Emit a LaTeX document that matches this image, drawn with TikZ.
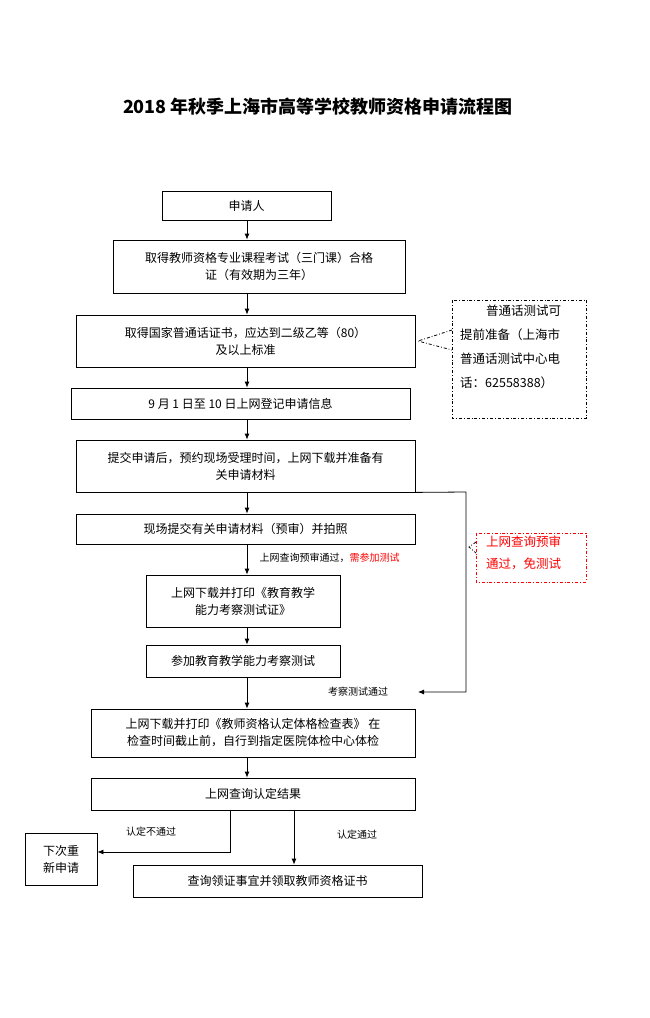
\documentclass[tikz,border=0pt]{standalone}
\usepackage{fontspec}
\setmainfont{Noto Sans CJK SC}
\XeTeXlinebreaklocale "zh"
\XeTeXlinebreakskip=0pt plus 1pt
\usetikzlibrary{arrows.meta}

\begin{document}
\begin{tikzpicture}[x=1pt,y=-1pt,
    box/.style={draw, thick, inner sep=0pt, align=center, font=\fontsize{12}{17}\selectfont},
    note/.style={draw, thick, dash dot},
    notetext/.style={anchor=north west, inner sep=0pt, align=left, font=\fontsize{12.5}{24}\selectfont},
    lbl/.style={font=\fontsize{10}{12}\selectfont},
    arr/.style={thick, -{Latex[length=6pt,width=5pt]}}]
    \useasboundingbox (0,0) rectangle (650,1018);
    \node[font=\bfseries\fontsize{18}{20}\selectfont] (title) at (318,107) {2018 年秋季上海市高等学校教师资格申请流程图};
    % main column
    \node[box, minimum width=169pt, minimum height=29pt] (apply) at (246.5,205.5) {申请人};
    \node[box, minimum width=292pt, minimum height=53pt] (course) at (259,266.5) {取得教师资格专业课程考试（三门课）合格\\证（有效期为三年）};
    \node[box, minimum width=339pt, minimum height=52pt] (mandarin) at (245.5,341) {取得国家普通话证书，应达到二级乙等（80）\\及以上标准};
    \node[box, minimum width=339pt, minimum height=31pt] (register) at (240.5,403.5) {9 月 1 日至 10 日上网登记申请信息};
    \node[box, minimum width=339pt, minimum height=52pt] (submit) at (245.5,466) {提交申请后，预约现场受理时间，上网下载并准备有\\关申请材料};
    \node[box, minimum width=339pt, minimum height=30pt] (onsite) at (245.5,529) {现场提交有关申请材料（预审）并拍照};
    \node[box, minimum width=194pt, minimum height=52pt] (permit) at (243,601) {上网下载并打印《教育教学\\能力考察测试证》};
    \node[box, minimum width=194pt, minimum height=32pt] (test) at (243,661) {参加教育教学能力考察测试};
    \node[box, minimum width=324pt, minimum height=48pt] (health) at (253,733) {上网下载并打印《教师资格认定体格检查表》 在\\检查时间截止前，自行到指定医院体检中心体检};
    \node[box, minimum width=324pt, minimum height=32pt] (result) at (253,794) {上网查询认定结果};
    \node[box, minimum width=72pt, minimum height=52pt] (retry) at (61,859) {下次重\\新申请};
    \node[box, minimum width=289pt, minimum height=32pt] (cert) at (277.5,881) {查询领证事宜并领取教师资格证书};
    % notes
    \draw[note] (452,300) rectangle (586,418);
    \node[notetext] (note1) at (460,305) {\hspace*{26pt}普通话测试可\\提前准备（上海市\\普通话测试中心电\\话：62558388）};
    \draw[note, red] (476,533) rectangle (586,582);
    \node[notetext, text=red, font=\fontsize{12.5}{22}\selectfont] (note2) at (486,536) {上网查询预审\\通过，免测试};
    \draw[thick, dash dot] (452,330) -- (418,341) -- (452,350);
    \draw[thick, dash dot] (476,542) -- (469,547) -- (476,553);
    % arrows
    \foreach \a/\b in {apply/course, course/mandarin, mandarin/register, register/submit, submit/onsite, onsite/permit, permit/test, test/health, health/result}
      \draw[arr] (\a.south -| 247,0) -- (\b.north -| 247,0);
    \draw[arr] (submit.south east) -- (466,492) -- (466,692) -- (418,692);
    \node[lbl, anchor=west] (need) at (256,558) {上网查询预审通过，\textcolor{red}{需参加测试}};
    \node[lbl] (pass) at (358,692) {考察测试通过};
    \draw[arr] (result.south -| 230,0) -- (230,852) -- (retry.east |- 0,852);
    \node[lbl] (fail) at (151,832) {认定不通过};
    \draw[arr] (result.south -| 294,0) -- (cert.north -| 294,0);
    \node[lbl] (ok) at (357,835) {认定通过};
\end{tikzpicture}
\end{document}
